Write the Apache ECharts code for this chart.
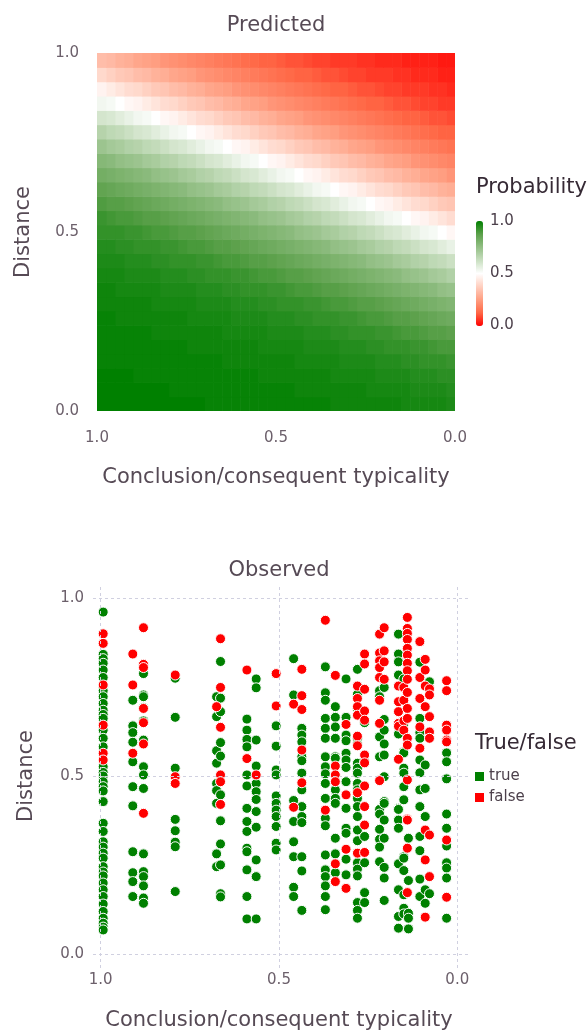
<!DOCTYPE html>
<html>
<head>
<meta charset="utf-8">
<title>Predicted / Observed</title>
<script src="https://cdn.jsdelivr.net/npm/echarts@6.0.0/dist/echarts.min.js"></script>
<style>
  html, body { margin: 0; padding: 0; background: #fff; }
  #chart { width: 587px; height: 1030px; }
</style>
</head>
<body>
<div id="chart"></div>
<script>
// ---------------- data ----------------
var axisTicks = [0, 0.5, 1];
var probabilityTicks = [1, 0.5, 0];

// predicted surface: cell centres (typicality x distance) and probability per cell
var predTypicality = [0.0125, 0.0375, 0.0625, 0.0875, 0.1125, 0.1375, 0.1625, 0.1875, 0.2125, 0.2375,
  0.2625, 0.2875, 0.3125, 0.3375, 0.3625, 0.3875, 0.4125, 0.4375, 0.4625, 0.4875,
  0.5125, 0.5375, 0.5625, 0.5875, 0.6125, 0.6375, 0.6625, 0.6875, 0.7125, 0.7375,
  0.7625, 0.7875, 0.8125, 0.8375, 0.8625, 0.8875, 0.9125, 0.9375, 0.9625, 0.9875];
var predDistance = [0.02, 0.06, 0.10, 0.14, 0.18, 0.22, 0.26, 0.30, 0.34, 0.38, 0.42, 0.46, 0.50,
  0.54, 0.58, 0.62, 0.66, 0.70, 0.74, 0.78, 0.82, 0.86, 0.90, 0.94, 0.98];
// one row per distance (bottom to top), one value per typicality (0 -> 1)
var predProbability = [
  [.96,.97,.97,.97,.97,.97,.98,.98,.98,.98,.98,.98,.98,.98,.99,.99,.99,.99,.99,.99,.99,.99,.99,.99,.99,.99,.99,.99,1,1,1,1,1,1,1,1,1,1,1,1],
  [.95,.96,.96,.96,.96,.97,.97,.97,.97,.97,.98,.98,.98,.98,.98,.98,.98,.98,.99,.99,.99,.99,.99,.99,.99,.99,.99,.99,.99,.99,.99,.99,1,1,1,1,1,1,1,1],
  [.94,.94,.95,.95,.95,.96,.96,.96,.96,.97,.97,.97,.97,.97,.98,.98,.98,.98,.98,.98,.98,.98,.99,.99,.99,.99,.99,.99,.99,.99,.99,.99,.99,.99,.99,.99,1,1,1,1],
  [.92,.93,.93,.93,.94,.94,.95,.95,.95,.96,.96,.96,.96,.97,.97,.97,.97,.97,.98,.98,.98,.98,.98,.98,.98,.98,.99,.99,.99,.99,.99,.99,.99,.99,.99,.99,.99,.99,.99,.99],
  [.90,.90,.91,.92,.92,.93,.93,.93,.94,.94,.95,.95,.95,.96,.96,.96,.96,.97,.97,.97,.97,.97,.98,.98,.98,.98,.98,.98,.98,.98,.99,.99,.99,.99,.99,.99,.99,.99,.99,.99],
  [.87,.88,.88,.89,.90,.90,.91,.92,.92,.93,.93,.93,.94,.94,.95,.95,.95,.96,.96,.96,.96,.97,.97,.97,.97,.97,.98,.98,.98,.98,.98,.98,.98,.98,.99,.99,.99,.99,.99,.99],
  [.83,.84,.85,.86,.87,.88,.88,.89,.90,.90,.91,.92,.92,.93,.93,.93,.94,.94,.95,.95,.95,.96,.96,.96,.96,.97,.97,.97,.97,.97,.98,.98,.98,.98,.98,.98,.98,.98,.99,.99],
  [.79,.80,.81,.82,.83,.84,.85,.86,.87,.88,.88,.89,.90,.90,.91,.92,.92,.93,.93,.93,.94,.94,.95,.95,.95,.96,.96,.96,.96,.97,.97,.97,.97,.97,.98,.98,.98,.98,.98,.98],
  [.74,.75,.77,.78,.79,.80,.81,.82,.83,.84,.85,.86,.87,.88,.88,.89,.90,.90,.91,.92,.92,.93,.93,.93,.94,.94,.95,.95,.95,.96,.96,.96,.96,.97,.97,.97,.97,.97,.98,.98],
  [.68,.70,.71,.73,.74,.75,.77,.78,.79,.80,.81,.82,.83,.84,.85,.86,.87,.88,.88,.89,.90,.90,.91,.92,.92,.93,.93,.93,.94,.94,.95,.95,.95,.96,.96,.96,.96,.97,.97,.97],
  [.62,.64,.65,.67,.68,.70,.71,.73,.74,.75,.77,.78,.79,.80,.81,.82,.83,.84,.85,.86,.87,.88,.88,.89,.90,.90,.91,.92,.92,.93,.93,.93,.94,.94,.95,.95,.95,.96,.96,.96],
  [.55,.57,.59,.60,.62,.64,.65,.67,.68,.70,.71,.73,.74,.75,.77,.78,.79,.80,.81,.82,.83,.84,.85,.86,.87,.88,.88,.89,.90,.90,.91,.92,.92,.93,.93,.93,.94,.94,.95,.95],
  [.48,.50,.52,.53,.55,.57,.59,.60,.62,.64,.65,.67,.68,.70,.71,.73,.74,.75,.77,.78,.79,.80,.81,.82,.83,.84,.85,.86,.87,.88,.88,.89,.90,.90,.91,.92,.92,.93,.93,.93],
  [.41,.43,.45,.47,.48,.50,.52,.53,.55,.57,.59,.60,.62,.64,.65,.67,.68,.70,.71,.73,.74,.75,.77,.78,.79,.80,.81,.82,.83,.84,.85,.86,.87,.88,.88,.89,.90,.90,.91,.92],
  [.35,.36,.38,.40,.41,.43,.45,.47,.48,.50,.52,.53,.55,.57,.59,.60,.62,.64,.65,.67,.68,.70,.71,.73,.74,.75,.77,.78,.79,.80,.81,.82,.83,.84,.85,.86,.87,.88,.88,.89],
  [.29,.30,.32,.33,.35,.36,.38,.40,.41,.43,.45,.47,.48,.50,.52,.53,.55,.57,.59,.60,.62,.64,.65,.67,.68,.70,.71,.73,.74,.75,.77,.78,.79,.80,.81,.82,.83,.84,.85,.86],
  [.23,.25,.26,.27,.29,.30,.32,.33,.35,.36,.38,.40,.41,.43,.45,.47,.48,.50,.52,.53,.55,.57,.59,.60,.62,.64,.65,.67,.68,.70,.71,.73,.74,.75,.77,.78,.79,.80,.81,.82],
  [.19,.20,.21,.22,.23,.25,.26,.27,.29,.30,.32,.33,.35,.36,.38,.40,.41,.43,.45,.47,.48,.50,.52,.53,.55,.57,.59,.60,.62,.64,.65,.67,.68,.70,.71,.73,.74,.75,.77,.78],
  [.15,.16,.17,.18,.19,.20,.21,.22,.23,.25,.26,.27,.29,.30,.32,.33,.35,.36,.38,.40,.41,.43,.45,.47,.48,.50,.52,.53,.55,.57,.59,.60,.62,.64,.65,.67,.68,.70,.71,.73],
  [.12,.12,.13,.14,.15,.16,.17,.18,.19,.20,.21,.22,.23,.25,.26,.27,.29,.30,.32,.33,.35,.36,.38,.40,.41,.43,.45,.47,.48,.50,.52,.53,.55,.57,.59,.60,.62,.64,.65,.67],
  [.09,.10,.10,.11,.12,.12,.13,.14,.15,.16,.17,.18,.19,.20,.21,.22,.23,.25,.26,.27,.29,.30,.32,.33,.35,.36,.38,.40,.41,.43,.45,.47,.48,.50,.52,.53,.55,.57,.59,.60],
  [.07,.07,.08,.08,.09,.10,.10,.11,.12,.12,.13,.14,.15,.16,.17,.18,.19,.20,.21,.22,.23,.25,.26,.27,.29,.30,.32,.33,.35,.36,.38,.40,.41,.43,.45,.47,.48,.50,.52,.53],
  [.05,.06,.06,.07,.07,.07,.08,.08,.09,.10,.10,.11,.12,.12,.13,.14,.15,.16,.17,.18,.19,.20,.21,.22,.23,.25,.26,.27,.29,.30,.32,.33,.35,.36,.38,.40,.41,.43,.45,.47],
  [.04,.04,.05,.05,.05,.06,.06,.07,.07,.07,.08,.08,.09,.10,.10,.11,.12,.12,.13,.14,.15,.16,.17,.18,.19,.20,.21,.22,.23,.25,.26,.27,.29,.30,.32,.33,.35,.36,.38,.40],
  [.03,.03,.04,.04,.04,.04,.05,.05,.05,.06,.06,.07,.07,.07,.08,.08,.09,.10,.10,.11,.12,.12,.13,.14,.15,.16,.17,.18,.19,.20,.21,.22,.23,.25,.26,.27,.29,.30,.32,.33]
];

// observed responses: [typicality, distances...] per column of points
var observedTrue = [
  [0.993, [0.961, 0.842, 0.830, 0.817, 0.798, 0.777, 0.750, 0.740, 0.723, 0.704, 0.685, 0.673, 0.662, 0.629, 0.606, 0.582, 0.526, 0.510, 0.500, 0.484, 0.470, 0.458, 0.428, 0.367, 0.344, 0.315, 0.300, 0.283, 0.269, 0.245, 0.230, 0.219, 0.199, 0.180, 0.161, 0.140, 0.119, 0.100, 0.086, 0.075, 0.067]],
  [0.910, [0.713, 0.641, 0.622, 0.595, 0.540, 0.470, 0.416, 0.287, 0.228, 0.203, 0.161]],
  [0.880, [0.788, 0.728, 0.723, 0.692, 0.655, 0.601, 0.526, 0.503, 0.465, 0.281, 0.231, 0.217, 0.191, 0.157, 0.142]],
  [0.791, [0.775, 0.665, 0.522, 0.378, 0.346, 0.314, 0.301, 0.175]],
  [0.675, [0.723, 0.667, 0.571, 0.536, 0.479, 0.459, 0.423, 0.281, 0.245]],
  [0.664, [0.822, 0.719, 0.681, 0.594, 0.556, 0.447, 0.374, 0.309, 0.250, 0.169, 0.160]],
  [0.590, [0.660, 0.629, 0.603, 0.582, 0.503, 0.472, 0.409, 0.372, 0.344, 0.297, 0.287, 0.236, 0.161, 0.098]],
  [0.564, [0.773, 0.748, 0.601, 0.528, 0.479, 0.456, 0.434, 0.400, 0.356, 0.264, 0.217, 0.098]],
  [0.508, [0.641, 0.584, 0.517, 0.503, 0.444, 0.423, 0.404, 0.386, 0.358, 0.311, 0.292]],
  [0.459, [0.830, 0.728, 0.431, 0.372, 0.315, 0.273, 0.187, 0.161]],
  [0.436, [0.634, 0.615, 0.596, 0.554, 0.543, 0.508, 0.461, 0.414, 0.386, 0.369, 0.273, 0.233, 0.122]],
  [0.370, [0.807, 0.734, 0.713, 0.662, 0.634, 0.606, 0.554, 0.526, 0.506, 0.479, 0.437, 0.381, 0.360, 0.278, 0.236, 0.217, 0.191, 0.161, 0.124]],
  [0.342, [0.695, 0.665, 0.638, 0.606, 0.554, 0.550, 0.461, 0.437, 0.423, 0.325, 0.281, 0.228]],
  [0.312, [0.773, 0.665, 0.615, 0.599, 0.564, 0.545, 0.524, 0.484, 0.409, 0.353, 0.339, 0.266, 0.222]],
  [0.280, [0.800, 0.730, 0.690, 0.606, 0.590, 0.536, 0.522, 0.508, 0.479, 0.461, 0.437, 0.414, 0.386, 0.348, 0.318, 0.256, 0.238, 0.219, 0.144, 0.122, 0.100]],
  [0.260, [0.650, 0.540, 0.330, 0.256, 0.172, 0.144]],
  [0.218, [0.740, 0.723, 0.610, 0.554, 0.406, 0.393, 0.350, 0.322, 0.300, 0.259]],
  [0.205, [0.770, 0.749, 0.659, 0.629, 0.590, 0.559, 0.498, 0.428, 0.423, 0.376, 0.325, 0.243, 0.213, 0.150]],
  [0.165, [0.899, 0.843, 0.821, 0.784, 0.618, 0.409, 0.406, 0.376, 0.353, 0.253, 0.180, 0.105, 0.072]],
  [0.150, [0.773, 0.648, 0.568, 0.565, 0.522, 0.508, 0.470, 0.433, 0.273, 0.269, 0.234, 0.166, 0.128, 0.112]],
  [0.137, [0.325, 0.206, 0.114, 0.100, 0.070]],
  [0.105, [0.820, 0.662, 0.638, 0.622, 0.606, 0.545, 0.509, 0.461, 0.414, 0.330, 0.290, 0.210, 0.161]],
  [0.090, [0.531, 0.465, 0.386, 0.180, 0.142]],
  [0.078, [0.765, 0.169]],
  [0.030, [0.565, 0.540, 0.492, 0.393, 0.353, 0.303, 0.256, 0.241, 0.213, 0.100]]
];
var observedFalse = [
  [0.993, [0.900, 0.873, 0.756, 0.643, 0.564, 0.545]],
  [0.910, [0.843, 0.756, 0.564]],
  [0.880, [0.917, 0.814, 0.805, 0.690, 0.650, 0.590, 0.395]],
  [0.791, [0.784, 0.498, 0.479]],
  [0.675, [0.695]],
  [0.664, [0.886, 0.749, 0.637, 0.503, 0.484, 0.420]],
  [0.590, [0.798, 0.549]],
  [0.564, [0.503]],
  [0.508, [0.788, 0.697]],
  [0.459, [0.702, 0.412]],
  [0.436, [0.800, 0.726, 0.687, 0.573, 0.481]],
  [0.370, [0.938, 0.404]],
  [0.342, [0.783, 0.528, 0.503, 0.484, 0.253, 0.203]],
  [0.312, [0.645, 0.447, 0.294, 0.184]],
  [0.280, [0.753, 0.718, 0.695, 0.671, 0.612, 0.585, 0.453, 0.283]],
  [0.260, [0.843, 0.815, 0.744, 0.683, 0.657, 0.559, 0.537, 0.472, 0.414, 0.362, 0.285]],
  [0.218, [0.899, 0.846, 0.824, 0.805, 0.777, 0.713, 0.648, 0.487]],
  [0.205, [0.917, 0.852, 0.821, 0.772]],
  [0.165, [0.753, 0.709, 0.681, 0.648, 0.640, 0.547]],
  [0.150, [0.749, 0.713, 0.655, 0.629]],
  [0.140, [0.946, 0.915, 0.901, 0.884, 0.859, 0.840, 0.817, 0.796, 0.772, 0.735, 0.690, 0.662, 0.606, 0.587, 0.489, 0.379, 0.376, 0.297, 0.172]],
  [0.105, [0.878, 0.777, 0.718, 0.638, 0.578]],
  [0.090, [0.828, 0.798, 0.753, 0.695, 0.348, 0.264, 0.103]],
  [0.078, [0.745, 0.728, 0.667, 0.624, 0.606, 0.334, 0.217]],
  [0.030, [0.768, 0.740, 0.643, 0.629, 0.601, 0.596, 0.320, 0.159]]
];

// ---------------- style ----------------
var FONT = '"DejaVu Sans", sans-serif';
var tickColor = '#6c606b';
var titleColor = '#564a55';
var keyTitleColor = '#362a35';
var keyLabelColor = '#4c404b';
var gridColor = '#d0d0e0';
// red -> white -> green, sampled in Lab like the original scale
var probColors = ['#ff0000', '#ff6846', '#ff9e81', '#ffcfbf', '#ffffff',
  '#c9dfc1', '#93bf85', '#5ba04a', '#008000'];
var cellHalfW = 0.0125, cellHalfH = 0.02;

function fmt(v) { return v.toFixed(1); }

var predData = [];
predProbability.forEach(function (row, r) {
  row.forEach(function (p, i) {
    predData.push([predTypicality[i], predDistance[r], p]);
  });
});

function flatten(cols) {
  var out = [];
  cols.forEach(function (c) {
    c[1].forEach(function (d) { out.push([c[0], d]); });
  });
  return out;
}

function renderCell(params, api) {
  var a = api.coord([api.value(0) + cellHalfW, api.value(1) + cellHalfH]);
  var b = api.coord([api.value(0) - cellHalfW, api.value(1) - cellHalfH]);
  return {
    type: 'rect',
    shape: {
      x: Math.min(a[0], b[0]), y: Math.min(a[1], b[1]),
      width: Math.abs(b[0] - a[0]) + 0.6, height: Math.abs(b[1] - a[1]) + 0.6
    },
    style: { fill: api.visual('color') }
  };
}

function valueAxis(grid, min, max, inverse, name, nameGap, margin) {
  return {
    gridIndex: grid, type: 'value', min: min, max: max, inverse: inverse,
    name: name, nameLocation: 'middle', nameGap: nameGap,
    nameTextStyle: { fontFamily: FONT, fontSize: 21, color: titleColor },
    axisLine: { show: false, onZero: false },
    axisTick: { show: false },
    splitLine: { show: false },
    axisLabel: { customValues: axisTicks, formatter: fmt, margin: margin,
      fontFamily: FONT, fontSize: 15, color: tickColor }
  };
}

function text(x, y, str, size, color, align) {
  return { type: 'text', x: x, y: y, silent: true,
    style: { text: str, fill: color, font: size + 'px ' + FONT,
      align: align, verticalAlign: 'middle' } };
}

var chart = echarts.init(document.getElementById('chart'));
chart.setOption({
  animation: false,
  backgroundColor: '#ffffff',
  textStyle: { fontFamily: FONT },
  grid: [
    { left: 97, top: 53, width: 358, height: 358, outerBoundsMode: 'none' },
    { left: 90, top: 584, width: 378, height: 384, outerBoundsMode: 'none' }
  ],
  xAxis: [
    valueAxis(0, 0, 1, true, 'Conclusion/consequent typicality', 56, 20),
    valueAxis(1, -0.03, 1.03, true, 'Conclusion/consequent typicality', 42, 5)
  ],
  yAxis: [
    valueAxis(0, 0, 1, false, 'Distance', 63, 18),
    valueAxis(1, -0.04, 1.04, false, 'Distance', 53, 6)
  ],
  visualMap: {
    type: 'continuous', seriesIndex: 0, dimension: 2, min: 0, max: 1,
    inRange: { color: probColors },
    left: 471, top: 216, itemWidth: 7, itemHeight: 105,
    calculable: false, hoverLink: false, padding: 5
  },
  legend: {
    data: ['true', 'false'], orient: 'vertical', left: 475, top: 769,
    icon: 'rect', itemWidth: 9, itemHeight: 9, itemGap: 6, padding: 0,
    selectedMode: false,
    itemStyle: { borderWidth: 0 },
    textStyle: { fontFamily: FONT, fontSize: 15, color: keyLabelColor }
  },
  graphic: [
    text(276, 26, 'Predicted', 21, titleColor, 'center'),
    text(279, 571, 'Observed', 21, titleColor, 'center'),
    text(476, 188, 'Probability', 21, keyTitleColor, 'left'),
    text(490, 221, fmt(probabilityTicks[0]), 15, keyLabelColor, 'left'),
    text(490, 273, fmt(probabilityTicks[1]), 15, keyLabelColor, 'left'),
    text(490, 325, fmt(probabilityTicks[2]), 15, keyLabelColor, 'left'),
    text(475, 744, 'True/false', 21, keyTitleColor, 'left')
  ],
  series: [
    {
      type: 'custom', name: 'Probability', xAxisIndex: 0, yAxisIndex: 0,
      data: predData, encode: { x: 0, y: 1 }, renderItem: renderCell,
      silent: true, clip: true
    },
    {
      type: 'line', xAxisIndex: 1, yAxisIndex: 1, data: [], z: 1, silent: true,
      markLine: {
        silent: true, symbol: 'none', animation: false,
        label: { show: false },
        lineStyle: { color: gridColor, type: [3, 3], width: 1 },
        data: axisTicks.map(function (v) { return { xAxis: v }; })
          .concat(axisTicks.map(function (v) { return { yAxis: v }; }))
      }
    },
    {
      name: 'true', type: 'scatter', xAxisIndex: 1, yAxisIndex: 1, z: 3,
      data: flatten(observedTrue), symbolSize: 10,
      itemStyle: { color: '#008000', borderColor: '#ffffff', borderWidth: 1, opacity: 1 }
    },
    {
      name: 'false', type: 'scatter', xAxisIndex: 1, yAxisIndex: 1, z: 3,
      data: flatten(observedFalse), symbolSize: 10,
      itemStyle: { color: '#ff0000', borderColor: '#ffffff', borderWidth: 1, opacity: 1 }
    }
  ]
});
</script>
</body>
</html>
